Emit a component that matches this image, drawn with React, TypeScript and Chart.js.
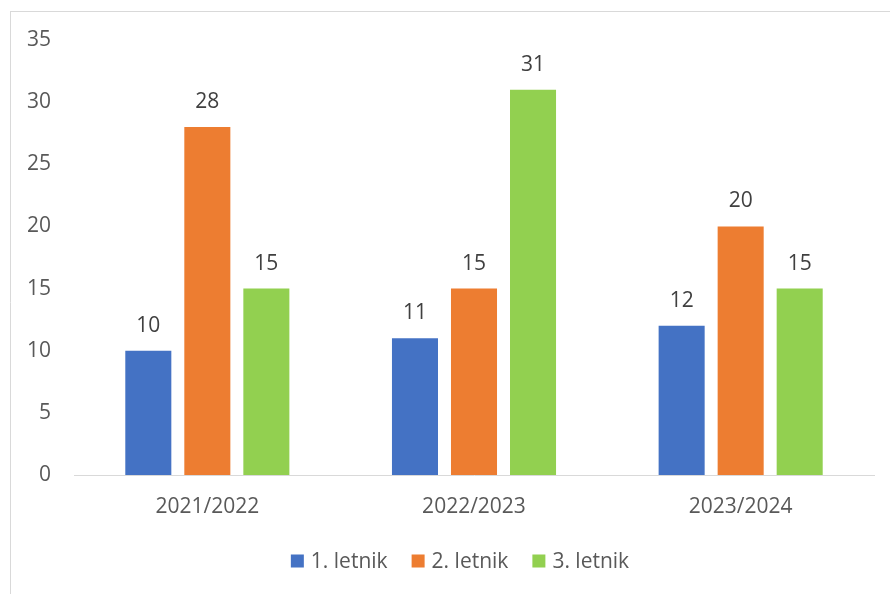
import React, { useEffect, useRef } from "react";
import { Chart, registerables } from "chart.js";

Chart.register(...registerables);

const categories = ["2021/2022", "2022/2023", "2023/2024"];
const seriesNames = ["1. letnik", "2. letnik", "3. letnik"];
const letnik1 = [10, 11, 12];
const letnik2 = [28, 15, 20];
const letnik3 = [15, 31, 15];
const seriesColors = ["#4472C4", "#ED7D31", "#92D050"];
const yTicks = [0, 5, 10, 15, 20, 25, 30, 35];

const FONT = "'Open Sans', sans-serif";
const FSIZE = 21;

const decorPlugin = {
  id: "decor",
  beforeDraw(chart: any) {
    const ctx = chart.ctx;
    ctx.save();
    ctx.strokeStyle = "#d9d9d9";
    ctx.lineWidth = 1;
    ctx.beginPath();
    ctx.moveTo(10, 11.5);
    ctx.lineTo(chart.width, 11.5);
    ctx.moveTo(10.5, 11);
    ctx.lineTo(10.5, chart.height);
    ctx.stroke();
    ctx.restore();
  },
  afterDatasetsDraw(chart: any) {
    const ctx = chart.ctx;
    ctx.save();
    ctx.font = `${FSIZE}px ${FONT}`;
    ctx.fillStyle = "#404040";
    ctx.textAlign = "center";
    ctx.textBaseline = "middle";
    chart.data.datasets.forEach((ds: any, i: number) => {
      const meta = chart.getDatasetMeta(i);
      meta.data.forEach((bar: any, j: number) => {
        ctx.fillText(String(ds.data[j]), bar.x, bar.y - 25);
      });
    });
    // legend
    const box = 13;
    const gapBoxText = 7;
    const gapItems = 24;
    const items = chart.data.datasets.map((ds: any) => ({
      label: ds.label,
      color: ds.backgroundColor,
      w: ctx.measureText(ds.label).width,
    }));
    let total = 0;
    items.forEach((it: any, k: number) => {
      total += box + gapBoxText + it.w + (k < items.length - 1 ? gapItems : 0);
    });
    let x = 460 - total / 2;
    const cy = 561;
    ctx.textAlign = "left";
    items.forEach((it: any) => {
      ctx.fillStyle = it.color;
      ctx.fillRect(x, cy - box / 2, box, box);
      ctx.fillStyle = "#595959";
      ctx.fillText(it.label, x + box + gapBoxText, cy + 1);
      x += box + gapBoxText + it.w + gapItems;
    });
    ctx.restore();
  },
};

export default function App() {
  const ref = useRef<HTMLCanvasElement>(null);
  useEffect(() => {
    if (!ref.current) return;
    const datasets = [letnik1, letnik2, letnik3].map((d, i) => ({
      label: seriesNames[i],
      data: d,
      backgroundColor: seriesColors[i],
      categoryPercentage: 0.664,
      barPercentage: 0.78,
    }));
    const chart = new Chart(ref.current, {
      type: "bar",
      data: { labels: categories, datasets },
      options: {
        animation: false,
        responsive: false,
        maintainAspectRatio: false,
        layout: { padding: { left: 0, right: 16, top: 40, bottom: 59 } },
        plugins: { legend: { display: false }, tooltip: { enabled: false } },
        scales: {
          x: {
            grid: { display: false, drawTicks: false },
            border: { display: true, color: "#d9d9d9", width: 1 },
            ticks: { color: "#595959", font: { family: FONT, size: FSIZE }, padding: 19 },
            afterFit: (s: any) => { s.height = 60; },
          },
          y: {
            min: 0,
            max: 35,
            grid: { display: false, drawTicks: false },
            border: { display: false },
            afterBuildTicks: (s: any) => { s.ticks = yTicks.map((v) => ({ value: v })); },
            ticks: { color: "#595959", font: { family: FONT, size: FSIZE }, padding: 23 },
            afterFit: (s: any) => { s.width = 74; },
          },
        },
      },
      plugins: [decorPlugin],
    });
    return () => chart.destroy();
  }, []);
  return (
    <div style={{ position: "absolute", left: 0, top: 0, width: 890, height: 594, background: "#fff" }}>
      <canvas ref={ref} width={890} height={594} style={{ width: 890, height: 594, display: "block" }} />
    </div>
  );
}
